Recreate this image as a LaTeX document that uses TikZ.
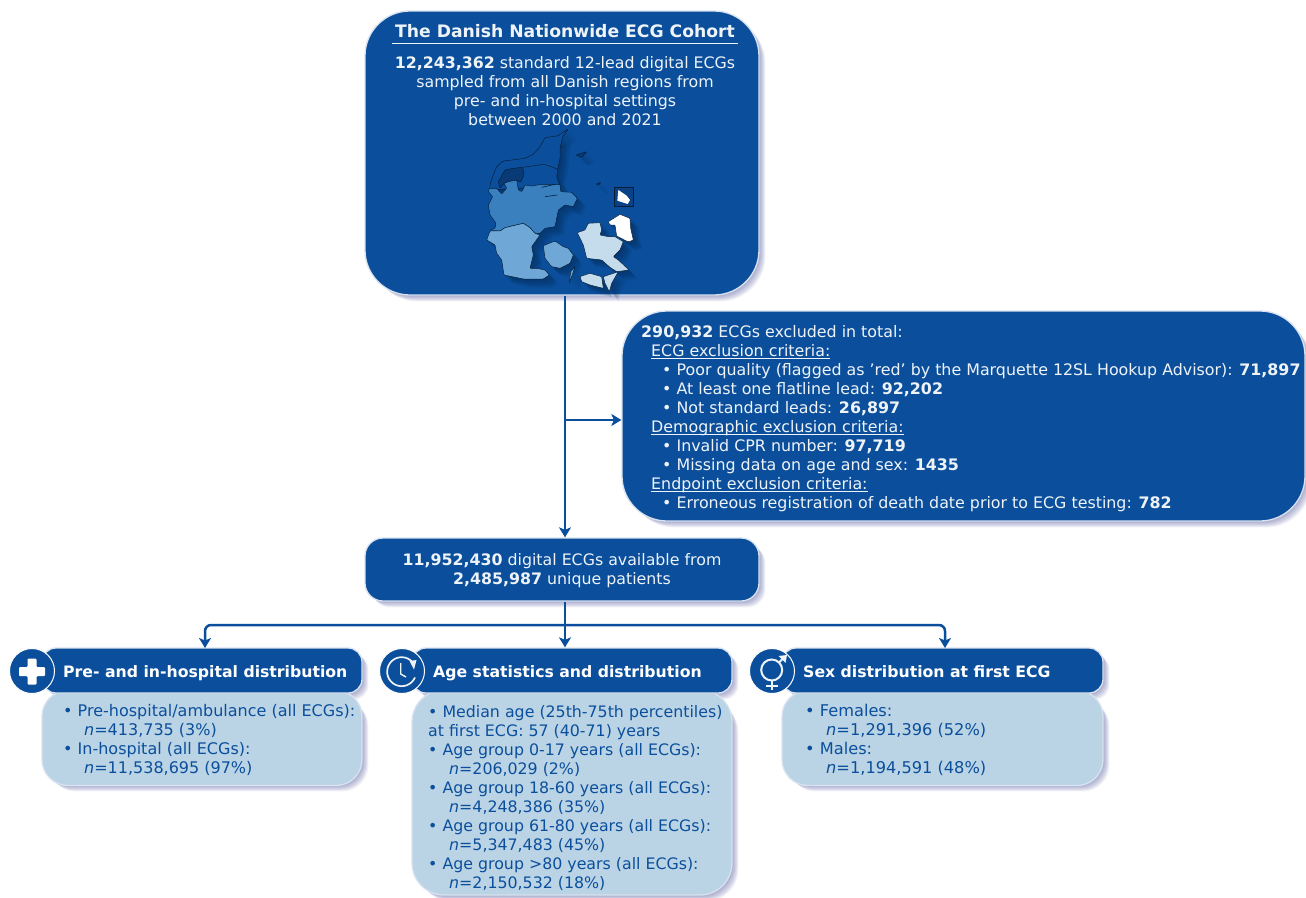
\documentclass[tikz,border=0pt]{standalone}
\usepackage{fontspec}
\setmainfont{DejaVu Sans}
\definecolor{navy}{HTML}{0B4F9C}
\definecolor{pale}{HTML}{BAD4E5}
\definecolor{midb}{HTML}{3A80BF}
\definecolor{skyb}{HTML}{6FA8D6}
\definecolor{icel}{HTML}{C5DCEC}
\definecolor{rimc}{HTML}{D8E2F0}
\definecolor{halo}{HTML}{4A4F9A}
\definecolor{softw}{HTML}{EEF3F8}
\newcommand{\bodyfont}[1]{\fontsize{#1}{19}\selectfont}
\newcommand{\ulx}[1]{\setbox0=\hbox{#1}\rlap{\rule[-2.2pt]{\wd0}{.8pt}}\box0 }
\tikzset{
 darkbox/.style={draw=rimc,line width=1.3pt,fill=navy,inner sep=0pt},
 palebox/.style={draw=rimc,line width=1.3pt,fill=pale,inner sep=0pt},
 whitetxt/.style={text=softw,inner sep=0pt,font=\bodyfont{15.8}},
 bluetxt/.style={text=navy,inner sep=0pt},
 headtxt/.style={text=white,inner sep=0pt,anchor=base west,font=\fontsize{15.7}{19}\selectfont\bfseries},
 flow/.style={draw=navy,line width=2.5pt},
 tip/.style={-{Stealth[length=10pt,width=12pt,inset=2.5pt]}},
 region/.style={draw=black!65!navy,line width=.45pt,line join=round,rounded corners=.7pt},
 disc/.style={circle,draw=white,line width=1pt,fill=navy,minimum size=45pt,inner sep=0pt},
}
\usetikzlibrary{arrows.meta,calc}
\newcommand{\softshadow}[5]{%
 \foreach \k in {1,...,8}{%
  \fill[halo,opacity=.07,rounded corners=#5pt]
   ($(#1pt+1pt+\k*.8pt,-#2pt-1pt-\k*.8pt)$) rectangle ($(#3pt+\k*.8pt,-#4pt-\k*.8pt)$);}}
\newcommand{\pNorth}{(265,12) -- (248,22) -- (235,32) -- (195,38) -- (180,65) -- (160,88) -- (135,100) -- (95,105) -- (70,108) -- (50,125) -- (38,155) -- (30,180) -- (30,195) -- (240,182) -- (230,155) -- (233,133) -- (240,100) -- (240,70) -- (248,35) -- cycle}
\newcommand{\pMid}{(28,190) -- (50,190) -- (65,207) -- (80,190) -- (72,175) -- (85,170) -- (110,165) -- (115,195) -- (125,200) -- (135,180) -- (155,183) -- (185,178) -- (240,178) -- (242,200) -- (275,202) -- (292,220) -- (280,245) -- (255,240) -- (235,255) -- (225,305) -- (195,310) -- (180,325) -- (165,325) -- (150,308) -- (130,295) -- (100,302) -- (75,308) -- (60,318) -- (30,315) -- (45,310) -- (48,295) -- (30,270) -- (25,240) -- (38,215) -- (25,200) -- cycle}
\newcommand{\pSouth}{(20,345) -- (30,318) -- (60,318) -- (75,308) -- (100,302) -- (130,295) -- (150,308) -- (165,325) -- (180,330) -- (155,365) -- (160,390) -- (150,430) -- (170,430) -- (195,435) -- (208,450) -- (190,462) -- (130,462) -- (72,450) -- (65,405) -- (50,385) -- (45,360) -- cycle}
\newcommand{\pFyn}{(190,362) -- (225,348) -- (250,365) -- (265,370) -- (280,390) -- (270,415) -- (240,430) -- (215,425) -- (195,400) -- cycle}
\newcommand{\pLange}{(285,425) -- (268,475) -- (272,440) -- cycle}
\newcommand{\pZeal}{(292,323) -- (315,315) -- (325,295) -- (360,293) -- (365,315) -- (360,330) -- (385,335) -- (405,335) -- (430,350) -- (420,375) -- (400,395) -- (415,405) -- (447,435) -- (410,440) -- (390,427) -- (365,405) -- (320,400) -- (310,360) -- cycle}
\newcommand{\pLol}{(300,455) -- (330,445) -- (365,455) -- (370,490) -- (330,480) -- (305,470) -- cycle}
\newcommand{\pFal}{(370,455) -- (415,440) -- (395,475) -- (388,500) -- (375,475) -- cycle}
\newcommand{\pCap}{(385,290) -- (420,268) -- (450,280) -- (452,310) -- (460,345) -- (445,351) -- (410,333) -- (405,300) -- (390,300) -- cycle}
\newcommand{\pLimf}{(100,130) -- (128,127) -- (132,150) -- (122,172) -- (110,165) -- (85,170) -- (72,175) -- (60,190) -- (55,170) -- (75,135) -- cycle}
\newcommand{\pLaes}{(288,90) -- (320,80) -- (305,97) -- cycle}
\newcommand{\pAnh}{(348,177) -- (363,172) -- (355,181) -- cycle}
\begin{document}
\begin{tikzpicture}[x=1pt,y=-1pt]
\useasboundingbox (0,0) rectangle (1306,897);
\fill[white] (0,0) rectangle (1306,897);
% shadows
\softshadow{365}{11}{759}{295}{45}
\softshadow{622}{311}{1305}{521}{45}
\softshadow{365}{538}{759}{601}{18}
\softshadow{42}{648}{362}{693}{14}
\softshadow{42}{693}{362}{785}{26}
\softshadow{412}{648}{732}{693}{14}
\softshadow{412}{693}{732}{895}{32}
\softshadow{782}{648}{1103}{693}{14}
\softshadow{782}{693}{1103}{785}{26}
% connectors coordinates
\coordinate (split) at (565,420);
\coordinate (fork) at (565,625);
% boxes
\node[darkbox,rounded corners=45pt,minimum width=394pt,minimum height=284pt] (cohort) at (562,153) {};
\node[darkbox,rounded corners=45pt,minimum width=683pt,minimum height=210pt] (excl) at (963.5,416) {};
\node[darkbox,rounded corners=18pt,minimum width=394pt,minimum height=63pt] (avail) at (562,569.5) {};
% lower panels
\node[palebox,rounded corners=26pt,minimum width=320pt,minimum height=95pt] (bodyA) at (202,738) {};
\node[darkbox,rounded corners=14pt,minimum width=320pt,minimum height=45pt] (headA) at (202,670.5) {};
\node[palebox,rounded corners=32pt,minimum width=320pt,minimum height=205pt] (bodyB) at (572,792.5) {};
\node[darkbox,rounded corners=14pt,minimum width=320pt,minimum height=45pt] (headB) at (572,670.5) {};
\node[palebox,rounded corners=26pt,minimum width=321pt,minimum height=95pt] (bodyC) at (942.5,738) {};
\node[darkbox,rounded corners=14pt,minimum width=321pt,minimum height=45pt] (headC) at (942.5,670.5) {};
% flow
\draw[flow] (cohort.south -| split) -- (split);
\draw[flow,tip] (split) -- (avail.north -| split);
\draw[flow,tip] (split) -- (excl.west |- split);
\draw[flow] (avail.south -| fork) -- (fork);
\draw[flow,tip] (fork) -- (headB.north -| fork);
\draw[flow,tip,rounded corners=6pt] (fork) -- (205,625) -- (205,648);
\draw[flow,tip,rounded corners=6pt] (fork) -- (945,625) -- (945,648);
% icon discs
\node[disc] (discA) at (32,671) {};
\node[disc] (discB) at (402,671) {};
\node[disc] (discC) at (772,671) {};
% plus
\fill[white,rounded corners=1pt] (19,667) -- (27.5,667) -- (27.5,658.5) -- (36.5,658.5) -- (36.5,667) -- (45,667) -- (45,676) -- (36.5,676) -- (36.5,684.5) -- (27.5,684.5) -- (27.5,676) -- (19,676) -- cycle;
% clock
\draw[softw,line width=1.7pt,line cap=round] (414.8,677.8) arc (25:322:14.5);
\draw[softw,line width=1.4pt] (400.7,663) -- (400.7,674) -- (406,677);
\fill[softw] (409.5,661) -- (416.5,660) -- (414,669.5) -- cycle;
% gender
\draw[softw,line width=2pt] (771.7,670) circle (10.5);
\draw[softw,line width=2pt] (771.7,680.5) -- (771.7,690);
\draw[softw,line width=2pt] (766,686) -- (777.5,686);
\draw[softw,line width=1.8pt] (779,662.5) -- (785,656.5);
\fill[softw] (787,655) -- (778.5,656) -- (785.5,663) -- cycle;
% cohort text
\node[whitetxt,font=\fontsize{17.2}{21}\selectfont\bfseries] (title) at (565,31.5) {The Danish Nationwide ECG Cohort};
\draw[softw,line width=1.2pt] (392,43.5) -- (738,43.5);
\node[whitetxt,align=center,anchor=north] (cohorttxt) at (565,56) {\textbf{12,243,362} standard 12-lead digital ECGs\\sampled from all Danish regions from\\pre- and in-hospital settings\\between 2000 and 2021};
% map
\begin{scope}[shift={(480,125)},x=.3333pt,y=-.3333pt]
\foreach \k in {1,...,9}{
 \fill[navy!55!black,opacity=.09,xshift=\k*1pt,yshift=-\k*1pt]
  \pNorth \pMid \pSouth \pFyn \pLange \pZeal \pLol \pFal \pCap \pLaes \pAnh;
}
\filldraw[region,fill=navy] \pNorth;
\filldraw[region,fill=navy!75!black] \pLimf;
\draw[region] (128,127) -- (165,122) -- (190,118) -- (215,125) -- (233,133);
\filldraw[region,fill=midb] \pMid;
\draw[region,line width=.6pt] (185,187) -- (225,178);
\draw[region,line width=.6pt] (195,215) -- (232,210);
\filldraw[region,fill=skyb] \pSouth;
\filldraw[region,fill=skyb] \pFyn;
\filldraw[region,fill=skyb] \pLange;
\filldraw[region,fill=icel] \pZeal;
\filldraw[region,fill=icel] \pLol;
\filldraw[region,fill=icel] \pFal;
\filldraw[region,fill=white] \pCap;
\filldraw[region,fill=navy!75!black] \pLaes;
\filldraw[region,fill=navy!75!black] \pAnh;
\draw[region,fill=navy!85!black,rounded corners=0pt] (403,187) rectangle (460,245);
\fill[white] (415,195) -- (440,212) -- (450,225) -- (443,237) -- (412,227) -- cycle;
\end{scope}
% exclusion text
\node[whitetxt,align=left,anchor=north west,font=\bodyfont{15.85}] (excltxt) at (641,325) {\textbf{290,932} ECGs excluded in total:\\
\hspace*{10pt}\ulx{ECG exclusion criteria:}\\
\hspace*{21pt}• Poor quality (flagged as ’red’ by the Marquette 12SL Hookup Advisor): \textbf{71,897}\\
\hspace*{21pt}• At least one flatline lead: \textbf{92,202}\\
\hspace*{21pt}• Not standard leads: \textbf{26,897}\\
\hspace*{10pt}\ulx{Demographic exclusion criteria:}\\
\hspace*{21pt}• Invalid CPR number: \textbf{97,719}\\
\hspace*{21pt}• Missing data on age and sex: \textbf{1435}\\
\hspace*{10pt}\ulx{Endpoint exclusion criteria:}\\
\hspace*{21pt}• Erroneous registration of death date prior to ECG testing: \textbf{782}};
\node[whitetxt,align=center] (availtxt) at (562,571) {\textbf{11,952,430} digital ECGs available from\\\textbf{2,485,987} unique patients};
% headers
\node[headtxt] (ha) at (63,677) {Pre- and in-hospital distribution};
\node[headtxt] (hb) at (433,677) {Age statistics and distribution};
\node[headtxt] (hc) at (803,677) {Sex distribution at first ECG};
% bodies
\node[bluetxt,align=left,anchor=north west,font=\bodyfont{16}] (ta) at (63,704) {• Pre-hospital/ambulance (all ECGs):\\
\hspace*{21pt}\textit{n}=413,735 (3\%)\\
• In-hospital (all ECGs):\\
\hspace*{21pt}\textit{n}=11,538,695 (97\%)};
\node[bluetxt,align=left,anchor=north west,font=\bodyfont{15.8}] (tb) at (428,705) {• Median age (25th-75th percentiles)\\
at first ECG: 57 (40-71) years\\
• Age group 0-17 years (all ECGs):\\
\hspace*{21pt}\textit{n}=206,029 (2\%)\\
• Age group 18-60 years (all ECGs):\\
\hspace*{21pt}\textit{n}=4,248,386 (35\%)\\
• Age group 61-80 years (all ECGs):\\
\hspace*{21pt}\textit{n}=5,347,483 (45\%)\\
• Age group >80 years (all ECGs):\\
\hspace*{21pt}\textit{n}=2,150,532 (18\%)};
\node[bluetxt,align=left,anchor=north west,font=\bodyfont{16.2}] (tc) at (805,704) {• Females:\\
\hspace*{21pt}\textit{n}=1,291,396 (52\%)\\
• Males:\\
\hspace*{21pt}\textit{n}=1,194,591 (48\%)};
\end{tikzpicture}
\end{document}
